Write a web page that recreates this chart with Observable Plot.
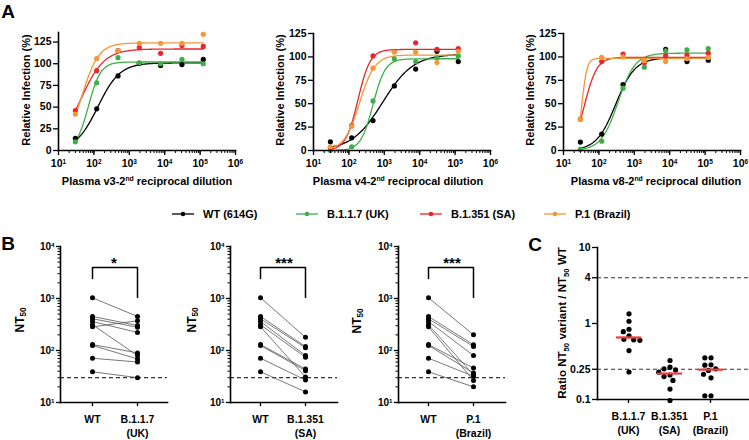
<!DOCTYPE html>
<html>
<head>
<meta charset="utf-8">
<script src="https://cdn.jsdelivr.net/npm/d3@7"></script>
<script src="https://cdn.jsdelivr.net/npm/@observablehq/plot@0.6"></script>
<style>
  html, body { margin: 0; padding: 0; background: #fff; }
  #fig { position: relative; width: 749px; height: 440px; overflow: hidden; background: #fff;
         font-family: "Liberation Sans", Arial, Helvetica, sans-serif; font-weight: bold; color: #000; }
  #fig > svg { position: absolute; }
  .lbl { position: absolute; white-space: nowrap; line-height: 1; font-weight: bold; }
  .lbl sup { font-size: 0.62em; vertical-align: 0.5em; line-height: 0; }
  .lbl sub { font-size: 0.68em; vertical-align: -0.3em; line-height: 0; }
  .legend { position: absolute; top: 207px; left: 172px; display: flex; height: 14px; }
  .legend .item { width: 124px; display: flex; align-items: center; font-size: 11px; font-weight: bold; }
  .legend svg { margin-right: 9px; }
</style>
</head>
<body>
<div id="fig"></div>
<script>
// ---------------- DATA ----------------
const variantNames = ["WT (614G)", "B.1.1.7 (UK)", "B.1.351 (SA)", "P.1 (Brazil)"];
const variantColors = ["#000000", "#3fae49", "#e8262b", "#f5963a"];
const dilutions = [30, 120, 480, 1920, 7680, 30720, 122880];

// Relative infection (%) per plasma, per variant
const v3WT = [14, 48, 86, 100.5, 98, 99, 105];
const v3UK = [10, 78, 107, 101, 100, 105, 100];
const v3SA = [46, 92, 115, 118.5, 112, 121, 120];
const v3BR = [42, 106, 115, 123.5, 123.5, 123.5, 134];
const v4WT = [9.3, 13.5, 32, 69, 87, 106, 95];
const v4UK = [0, 4, 53, 98, 95, 99, 101];
const v4SA = [3, 27, 101, 106, 115, 108, 109];
const v4BR = [4, 26, 88, 105, 105, 94, 106];
const v8WT = [9, 17.5, 70.5, 95, 108, 95, 96.5];
const v8UK = [1.4, 10, 66.6, 89, 106.5, 107.5, 109];
const v8SA = [33.5, 95, 103, 94, 101, 102, 104];
const v8BR = [33.5, 99.4, 100, 96, 95, 98, 99.4];

// Fitted dose-response curve parameters (top, EC50, Hill slope)
const v3Top = [101, 102, 117, 124], v3EC50 = [130, 70, 42, 45], v3Hill = [1.4, 2.5, 1.3, 1.8];
const v4Top = [103, 98, 108, 102], v4EC50 = [900, 480, 180, 200], v4Hill = [1.0, 2.5, 2.5, 2.0];
const v8Top = [99, 104, 99.5, 98.5], v8EC50 = [300, 350, 40, 33], v8Hill = [1.6, 1.8, 2.5, 6];

const aYTicks = [0, 25, 50, 75, 100, 125];
const aXTicks = [10, 100, 1000, 10000, 100000, 1000000];

// Panel B: NT50 per donor
const ntWT = [1032, 451, 407, 361, 312, 285, 130, 125, 71, 39];
const ntUK = [451, 303, 281, 222, 80, 372, 90, 69, 60, 30];
const ntSA = [180, 119, 113, 80, 74, 31, 44, 41, 27, 16];
const ntBR = [200, 129, 119, 80, 34, 26.5, 46, 37, 32, 20];
const bVariantLabels = ["B.1.1.7\n(UK)", "B.1.351\n(SA)", "P.1\n(Brazil)"];
const bStars = ["*", "***", "***"];
const bYTicks = [10, 100, 1000, 10000];
const detectionLimit = 30;
const bracketLevels = [3950, 2430, 1050]; // top, left leg end, right leg end

// Panel C: ratio NT50 variant / NT50 WT
const cVariants = ["B.1.1.7\n(UK)", "B.1.351\n(SA)", "P.1\n(Brazil)"];
const ratioUK = [1.34, 1.07, 0.84, 0.78, 0.69, 0.62, 0.61, 0.6, 0.44, 0.23];
const ratioSA = [0.326, 0.266, 0.253, 0.245, 0.229, 0.21, 0.2, 0.178, 0.137, 0.097];
const ratioBR = [0.353, 0.353, 0.286, 0.283, 0.253, 0.241, 0.215, 0.193, 0.112, 0.112];
const cYTicks = [0.1, 0.25, 1, 4, 10];
const cRefLines = [4, 0.25];

// ---------------- HELPERS ----------------
const fig = document.getElementById("fig");
const FONT = "'Liberation Sans', Arial, Helvetica, sans-serif";
const baseStyle = {fontFamily: FONT, fontSize: "10px", fontWeight: "bold", color: "#000", background: "transparent", overflow: "visible"};
const pow10 = d => "10^" + Math.round(Math.log10(d));
const minorLog = (lo, hi) => d3.scaleLog().domain([lo, hi]).ticks();

// turn "10^n" tick texts into real superscripts
function superscripts(svg) {
  svg.querySelectorAll("text").forEach(t => {
    const m = /^10\^(\d+)$/.exec(t.textContent);
    if (!m) return;
    t.textContent = "10";
    const ts = document.createElementNS("http://www.w3.org/2000/svg", "tspan");
    ts.setAttribute("dy", "-0.45em");
    ts.setAttribute("font-size", "0.62em");
    ts.textContent = m[1];
    t.appendChild(ts);
  });
}
function put(svg, left, top) {
  superscripts(svg);
  svg.style.left = left + "px";
  svg.style.top = top + "px";
  fig.appendChild(svg);
}
function label(html, cx, cy, size, rotate) {
  const d = document.createElement("div");
  d.className = "lbl";
  d.innerHTML = html;
  d.style.fontSize = size + "px";
  d.style.left = cx + "px";
  d.style.top = cy + "px";
  d.style.transform = "translate(-50%,-50%)" + (rotate ? " rotate(-90deg)" : "");
  fig.appendChild(d);
}

// ---------------- PANEL A ----------------
const infection = [[v3WT, v3UK, v3SA, v3BR], [v4WT, v4UK, v4SA, v4BR], [v8WT, v8UK, v8SA, v8BR]];
const fitTop = [v3Top, v4Top, v8Top], fitEC50 = [v3EC50, v4EC50, v8EC50], fitHill = [v3Hill, v4Hill, v8Hill];
const fitX = d3.range(121).map(t => dilutions[0] * Math.pow(dilutions[dilutions.length - 1] / dilutions[0], t / 120));

function drawA(i, left, width, mLeft, mRight, mTop, yMax) {
  const pts = [], fit = [];
  variantNames.forEach((v, j) => {
    dilutions.forEach((x, k) => pts.push({variant: v, x, y: infection[i][j][k]}));
    fitX.forEach(x => fit.push({variant: v, x, y: fitTop[i][j] / (1 + Math.pow(fitEC50[i][j] / x, fitHill[i][j]))}));
  });
  const svg = Plot.plot({
    width, height: 200, marginLeft: mLeft, marginRight: mRight, marginTop: mTop, marginBottom: 50,
    style: baseStyle,
    x: {type: "log", domain: [10, 1e6]},
    y: {domain: [0, yMax]},
    color: {domain: variantNames, range: variantColors},
    marks: [
      Plot.line(fit, {x: "x", y: "y", stroke: "variant", z: "variant", strokeWidth: 1.3}),
      Plot.dot(pts, {x: "x", y: "y", fill: "variant", r: 2.6}),
      Plot.axisX({ticks: aXTicks, tickFormat: pow10, tickSize: 5, tickPadding: 4, fontSize: 10.5, label: null, strokeWidth: 1.3}),
      Plot.axisX({ticks: minorLog(10, 1e6), tickFormat: () => "", tickSize: 3, label: null, strokeWidth: 1}),
      Plot.axisY({ticks: aYTicks, tickSize: 5, tickPadding: 2, fontSize: 10.5, label: null, strokeWidth: 1.3}),
      Plot.frame({anchor: "left", strokeWidth: 1.6}),
      Plot.frame({anchor: "bottom", strokeWidth: 1.6})
    ]
  });
  put(svg, left, 0);
}
drawA(0, 0, 250, 58, 15, 32, 136);
drawA(1, 250, 250, 63, 10, 33, 125);
drawA(2, 500, 249, 63, 9, 33, 125);

label("Plasma v3-2<sup>nd</sup> reciprocal dilution", 147, 181, 11);
label("Plasma v4-2<sup>nd</sup> reciprocal dilution", 398, 181, 11);
label("Plasma v8-2<sup>nd</sup> reciprocal dilution", 656, 181, 11);
label("Relative Infection (%)", 26, 90, 11, true);
label("Relative Infection (%)", 280, 90, 11, true);
label("Relative Infection (%)", 530, 90, 11, true);

// Legend
const legend = document.createElement("div");
legend.className = "legend";
variantNames.forEach((v, j) => {
  const item = document.createElement("div");
  item.className = "item";
  item.innerHTML = `<svg width="22" height="10"><line x1="0" x2="22" y1="5" y2="5" stroke="${variantColors[j]}" stroke-width="1.3"/><circle cx="11" cy="5" r="2.3" fill="${variantColors[j]}"/></svg><span>${v}</span>`;
  legend.appendChild(item);
});
fig.appendChild(legend);

// ---------------- PANEL B ----------------
const bVariantValues = [ntUK, ntSA, ntBR];
function drawB(k, left, mLeft, mRight, wtX, varX) {
  const long = [];
  ntWT.forEach((w, d) => {
    long.push({donor: d, group: "WT", value: w});
    long.push({donor: d, group: "V", value: bVariantValues[k][d]});
  });
  const bracket = [
    {group: "WT", value: bracketLevels[1]}, {group: "WT", value: bracketLevels[0]},
    {group: "V", value: bracketLevels[0]}, {group: "V", value: bracketLevels[2]}
  ];
  const svg = Plot.plot({
    width: 170, height: 205, marginLeft: mLeft, marginRight: mRight, marginTop: 11, marginBottom: 38,
    style: baseStyle,
    x: {type: "point", domain: ["WT", "V"], range: [wtX, varX], padding: 0},
    y: {type: "log", domain: [10, 10000]},
    marks: [
      Plot.ruleY([detectionLimit], {stroke: "#333", strokeWidth: 1.2, strokeDasharray: "4,3"}),
      Plot.line(long, {x: "group", y: "value", z: "donor", stroke: "#555", strokeWidth: 0.8}),
      Plot.dot(long, {x: "group", y: "value", fill: "#000", r: 2.5}),
      Plot.line(bracket, {x: "group", y: "value", stroke: "#000", strokeWidth: 1.5}),
      Plot.text([bStars[k]], {y: bracketLevels[0], text: d => d, fontSize: 15, lineAnchor: "bottom", dy: 1}),
      Plot.axisY({ticks: bYTicks, tickFormat: pow10, tickSize: 4, tickPadding: 2, label: null, strokeWidth: 1.3}),
      Plot.axisY({ticks: minorLog(10, 10000), tickFormat: () => "", tickSize: 2.5, label: null, strokeWidth: 1}),
      Plot.axisX({tickFormat: g => g === "WT" ? "WT" : bVariantLabels[k], tickSize: 4, tickPadding: 7, fontSize: 10.5, lineHeight: 1.3, label: null, strokeWidth: 1.3}),
      Plot.frame({anchor: "left", strokeWidth: 1.6}),
      Plot.frame({anchor: "bottom", strokeWidth: 1.6})
    ]
  });
  put(svg, left, 235);
}
drawB(0, 0, 60, 3, 92, 137);
drawB(1, 170, 60, 3, 90, 135);
drawB(2, 340, 58, 5, 88, 133);

label("NT<sub>50</sub>", 20, 320, 12, true);
label("NT<sub>50</sub>", 192, 320, 12, true);
label("NT<sub>50</sub>", 357, 321, 12, true);

// ---------------- PANEL C ----------------
const cData = [];
[ratioUK, ratioSA, ratioBR].forEach((arr, j) => arr.forEach(r => cData.push({variant: cVariants[j], ratio: r})));

const cAxes = Plot.plot({
  width: 249, height: 205, marginLeft: 97, marginRight: 0, marginTop: 12, marginBottom: 41,
  style: baseStyle,
  x: {type: "point", domain: cVariants, range: [128, 210], padding: 0},
  y: {type: "log", domain: [0.1, 10]},
  marks: [
    Plot.ruleY(cRefLines, {stroke: "#333", strokeWidth: 1.2, strokeDasharray: "4,3"}),
    Plot.axisY({ticks: cYTicks, tickFormat: d => String(d), tickSize: 5, tickPadding: 2, fontSize: 10.5, label: null, strokeWidth: 1.3}),
    Plot.axisX({tickSize: 4, tickPadding: 7, fontSize: 10.5, lineHeight: 1.3, label: null, strokeWidth: 1.3}),
    Plot.frame({anchor: "left", strokeWidth: 1.6}),
    Plot.frame({anchor: "bottom", strokeWidth: 1.6})
  ]
});
put(cAxes, 500, 235);

const cDots = Plot.plot({
  width: 249, height: 205, marginLeft: 107.5, marginRight: 18.5, marginTop: 12, marginBottom: 41,
  style: baseStyle,
  fx: {domain: cVariants, padding: 0, axis: null, label: null},
  y: {type: "log", domain: [0.1, 10], axis: null},
  marks: [
    Plot.dot(cData, Plot.dodgeX("middle", {fx: "variant", y: "ratio", r: 2.6, fill: "#000", padding: 1.4})),
    Plot.tickY(cData, Plot.groupZ({y: "median"}, {fx: "variant", y: "ratio", stroke: "#ee3b3b", strokeWidth: 2.2, insetLeft: 8, insetRight: 8}))
  ]
});
put(cDots, 500, 235);

label("Ratio NT<sub>50</sub> variant / NT<sub>50</sub> WT", 563, 323, 11.5, true);

// Panel letters
label("A", 8, 11, 19);
label("B", 8, 243, 19);
label("C", 535, 244, 19);
</script>
</body>
</html>
